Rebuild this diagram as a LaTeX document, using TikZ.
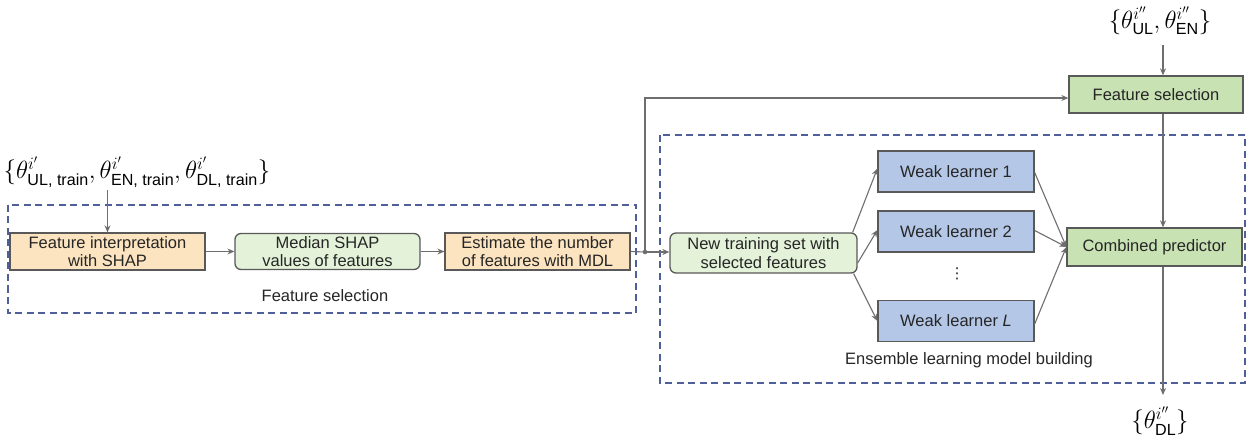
\documentclass[tikz,border=0pt]{standalone}
\usepackage{fontspec}
\setmainfont{Liberation Sans}
\newfontfamily\dejavu{DejaVu Sans}
\usepackage{amsmath}
\usetikzlibrary{arrows.meta}
\definecolor{orfill}{HTML}{FCE4C0}
\definecolor{lgfill}{HTML}{E3F2D9}
\definecolor{gfill}{HTML}{C8E2B3}
\definecolor{bfill}{HTML}{B4C7E7}
\definecolor{bord}{HTML}{595959}
\definecolor{arrc}{HTML}{6E6E6E}
\definecolor{dashc}{HTML}{4F5F9A}
\tikzset{
  box/.style={draw=bord, line width=1.3pt, inner sep=0pt, align=center,
    font=\fontsize{16.5}{18.5}\selectfont, text=black!85},
  orbox/.style={box, fill=orfill},
  rgbox/.style={box, fill=lgfill, rounded corners=6pt},
  gbox/.style={box, fill=gfill},
  wbox/.style={box, fill=bfill, minimum width=156pt, minimum height=41pt},
  arr/.style={draw=arrc, line width=1.1pt, -{Stealth[length=7pt,width=6pt]}},
  ln/.style={draw=arrc, line width=1.1pt},
  grp/.style={draw=dashc, line width=1.3pt, dash pattern=on 7pt off 4.5pt},
  lbl/.style={font=\fontsize{16.5}{18.5}\selectfont, text=black!85, inner sep=0pt},
  mth/.style={font=\fontsize{23}{26}\selectfont, inner sep=0pt}
}
\begin{document}
\begin{tikzpicture}[x=1pt,y=-1pt]
\useasboundingbox (0,0) rectangle (1247,438);
% group frames
\draw[grp] (8,205) rectangle (636,313);
\draw[grp] (660,135) rectangle (1245,383);
% left branch
\node[mth] (in1) at (137,172) {$\{\theta^{i'}_{\text{UL, train}},\theta^{i'}_{\text{EN, train}},\theta^{i'}_{\text{DL, train}}\}$};
\node[orbox, minimum width=195pt, minimum height=37pt] (b1) at (107.5,251.5) {Feature interpretation\\with SHAP};
\node[rgbox, minimum width=185pt, minimum height=36pt] (b2) at (327.5,251.5) {Median SHAP\\values of features};
\node[orbox, minimum width=185pt, minimum height=37pt] (b3) at (537.5,251.5) {Estimate the number\\of features with MDL};
\node[lbl] (fsl) at (325,296) {Feature selection};
\coordinate (dot) at (645,252);
\coordinate (up) at (645,98);
% right part
\node[rgbox, minimum width=187pt, minimum height=40pt] (nt) at (763.5,253) {New training set with\\selected features};
\node[wbox] (w1) at (956,171.5) {Weak learner 1};
\node[wbox] (w2) at (956,231.5) {Weak learner 2};
\node[wbox] (wl) at (956,321) {Weak learner \textit{L}};
\node[lbl, font=\dejavu\fontsize{15}{17}\selectfont] (vd) at (957,274) {⋮};
\node[gbox, minimum width=174pt, minimum height=37pt] (fs) at (1156,94.5) {Feature selection};
\node[gbox, minimum width=175pt, minimum height=38pt] (cp) at (1154.5,247) {Combined predictor};
\node[lbl] (ens) at (969,360) {Ensemble learning model building};
\node[mth] (top) at (1160,21) {$\{\theta^{i''}_{\text{UL}},\theta^{i''}_{\text{EN}}\}$};
\node[mth] (out) at (1160,421) {$\{\theta^{i''}_{\text{DL}}\}$};
\coordinate (col) at (1163,0);
% connectors
\draw[arr] (b1.north |- 0,190) -- (b1.north);
\draw[arr] (b1.east) -- (b2.west);
\draw[arr] (b2.east) -- (b3.west);
\draw[ln] (b3.east) -- (dot);
\fill[arrc] (dot) circle (2.3pt);
\draw[arr] (dot) -- (nt.west |- dot);
\draw[arr] (dot) -- (up) -- (fs.west |- up);
\draw[arr] (nt.north east) ++(-5,0) -- ([yshift=3pt]w1.west);
\draw[arr] ([yshift=-10pt]nt.east) -- ([yshift=1.5pt]w2.west);
\draw[arr] ([xshift=-4pt]nt.south east) -- (wl.west);
\draw[arr] ([yshift=-1pt]w1.east) -- (cp.west);
\draw[arr] ([yshift=1pt]w2.east) -- (cp.west);
\draw[arr] ([yshift=-3pt]wl.east) -- (cp.west);
\draw[arr] (col |- 0,45) -- (col |- fs.north);
\draw[arr] (col |- fs.south) -- (col |- cp.north);
\draw[arr] (col |- cp.south) -- (col |- 0,395);
\end{tikzpicture}
\end{document}
